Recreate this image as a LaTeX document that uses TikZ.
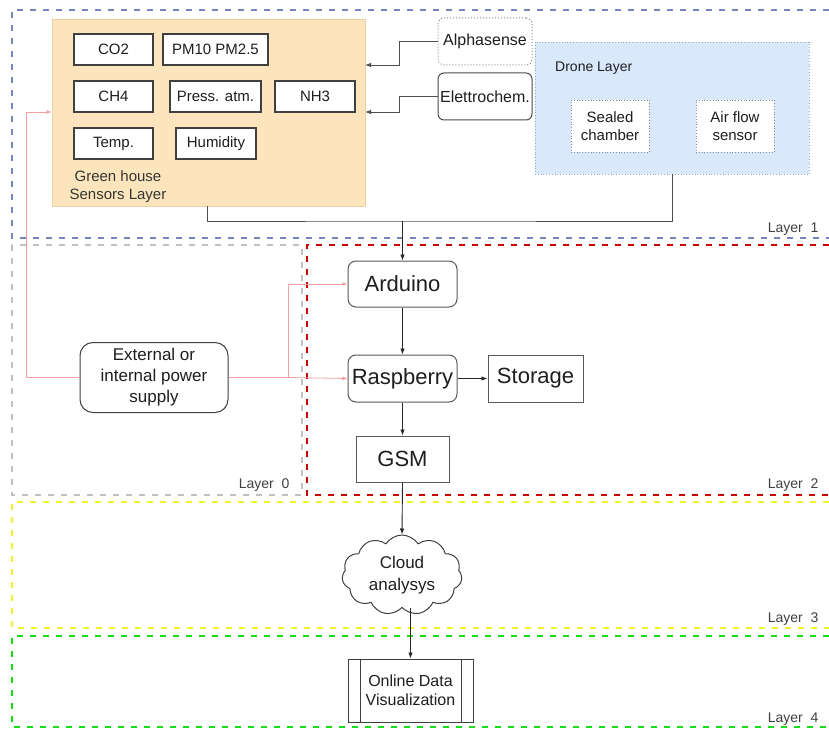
\documentclass[tikz,border=0pt]{standalone}
\usepackage{fontspec}
\setmainfont{Liberation Sans}
\usetikzlibrary{arrows.meta,shapes.symbols}

\definecolor{layerone}{RGB}{118,134,192}
\definecolor{layerzero}{RGB}{192,192,196}
\definecolor{layertwo}{RGB}{204,0,0}
\definecolor{layerthree}{RGB}{242,242,40}
\definecolor{layerfour}{RGB}{20,222,20}
\definecolor{ghfill}{RGB}{252,229,189}
\definecolor{ghline}{RGB}{236,210,160}
\definecolor{dronefill}{RGB}{218,232,252}
\definecolor{droneline}{RGB}{150,170,200}
\definecolor{powerline}{RGB}{244,160,160}
\definecolor{txt}{RGB}{30,30,30}
\definecolor{conn}{RGB}{80,80,80}

\newcommand\fsz[2]{\fontsize{#1}{#2}\selectfont}

\tikzset{
  layerbox/.style={line width=2pt, dash pattern=on 6pt off 7pt},
  layerlabel/.style={anchor=base east, text=txt!85, font=\fsz{14}{16}},
  sensor/.style={draw=black!75, fill=white, line width=1.1pt, text=txt,
    font=\fsz{15}{18}, inner sep=0pt, minimum height=31pt},
  module/.style={draw=black!70, fill=white, line width=1pt, text=txt,
    font=\fsz{16}{19}, inner sep=0pt, rounded corners=6pt,
    minimum width=94pt, minimum height=47pt},
  dotbox/.style={draw=black!45, dotted, fill=white, line width=0.8pt, text=txt,
    font=\fsz{15}{18}, align=center, inner sep=0pt,
    minimum width=78pt, minimum height=52pt},
  mainbox/.style={draw=black!65, fill=white, line width=1pt, text=txt,
    font=\fsz{22}{26}, inner sep=0pt, minimum height=46pt},
  arr/.style={-{Latex[length=6pt,width=4.5pt]}, line width=0.9pt, draw=black!85},
  bus/.style={line width=1pt, draw=conn},
  pw/.style={line width=0.8pt, draw=powerline},
  pwarr/.style={pw, -{Latex[length=5pt,width=4pt]}},
}

\begin{document}
\begin{tikzpicture}[x=1pt,y=-1pt]
\useasboundingbox (0,0) rectangle (829,730);
\fill[white] (0,0) rectangle (829,730);

% layer frames (open on the right, where they run off the page)
\draw[layerbox, layerone]   (829,10)  -- (12,10)  -- (12,238) -- (829,238);
\draw[layerbox, layerzero]  (12,245)  rectangle (302,495);
\draw[layerbox, layertwo]   (829,245) -- (307,245) -- (307,495) -- (829,495);
\draw[layerbox, layerthree] (829,502) -- (12,502) -- (12,628) -- (829,628);
\draw[layerbox, layerfour]  (829,636) -- (12,636) -- (12,727) -- (829,727);

\node[layerlabel] (l1) at (822,232) {Layer\ \ 1};
\node[layerlabel] (l0) at (293,488) {Layer\ \ 0};
\node[layerlabel] (l2) at (822,488) {Layer\ \ 2};
\node[layerlabel] (l3) at (822,622) {Layer\ \ 3};
\node[layerlabel] (l4) at (822,722) {Layer\ \ 4};

% greenhouse sensors layer
\node[draw=ghline, fill=ghfill, line width=0.8pt, minimum width=313pt,
      minimum height=187pt, inner sep=0pt] (gh) at (208.5,112.5) {};
\node[sensor, minimum width=79pt]  (co2)  at (113.5,49.5)  {CO2};
\node[sensor, minimum width=105pt] (pm)   at (215.5,49.5)  {PM10 PM2.5};
\node[sensor, minimum width=79pt]  (ch4)  at (113.5,96.5)  {CH4};
\node[sensor, minimum width=91pt]  (pres) at (215.5,96.5)  {Press. atm.};
\node[sensor, minimum width=80pt]  (nh3)  at (315,96.5)    {NH3};
\node[sensor, minimum width=79pt]  (temp) at (113.5,143.5) {Temp.};
\node[sensor, minimum width=80pt]  (hum)  at (216,143.5)   {Humidity};
\node[text=txt!90, font=\fsz{15}{18}, align=center, inner sep=0pt]
     (ghlabel) at (118,187) {Green house\\Sensors Layer};

% sensor families
\node[module, draw=black!45, dotted] (alpha) at (485,41.5) {Alphasense};
\node[module] (elet) at (485,96.5) {Elettrochem.};

% drone layer
\node[draw=droneline, dotted, fill=dronefill, line width=0.8pt,
      minimum width=274pt, minimum height=132pt, inner sep=0pt] (drone) at (672,108) {};
\node[anchor=west, text=txt, font=\fsz{14}{16}, inner sep=0pt] (dlabel) at (555,68) {Drone Layer};
\node[dotbox] (sealed) at (610,126) {Sealed\\chamber};
\node[dotbox] (airflow) at (735,126) {Air flow\\sensor};

% processing chain
\node[mainbox, rounded corners=8pt, minimum width=109pt] (ard)  at (402.5,284)   {Arduino};
\node[mainbox, rounded corners=8pt, minimum width=109pt, minimum height=47pt] (rasp) at (402.5,378.5) {Raspberry};
\node[mainbox, minimum width=95pt, minimum height=47pt] (stor) at (535.5,378.5) {Storage};
\node[mainbox, minimum width=93pt] (gsm) at (402.5,459) {GSM};

\node[draw=black!75, fill=white, line width=1pt, rounded corners=13pt,
      minimum width=148pt, minimum height=70pt, inner sep=0pt, align=center,
      text=txt, font=\fsz{17}{21}] (pwr) at (154,377.5) {External or\\internal power\\supply};

\node[cloud, cloud puffs=11, cloud puff arc=115, aspect=1.5, draw=black!75,
      fill=white, line width=1pt, minimum width=120pt, minimum height=80pt,
      inner sep=0pt, align=center, text=txt, font=\fsz{17}{22}] (cloud) at (402,575) {Cloud\\analysys};

\node[draw=black!75, fill=white, line width=1pt, minimum width=125pt,
      minimum height=63pt, inner sep=0pt, align=center, text=txt,
      font=\fsz{16}{19}] (viz) at (410.5,690.5) {Online Data\\Visualization};
\draw[black!75, line width=1pt] ([xshift=13pt]viz.north west) -- ([xshift=13pt]viz.south west);
\draw[black!75, line width=1pt] ([xshift=-12pt]viz.north east) -- ([xshift=-12pt]viz.south east);

% connectors into the greenhouse layer
\coordinate (ghA) at (365,65);
\coordinate (ghB) at (365,112);
\draw[arr, draw=conn] (alpha.west) -- ++(-38,0) |- (ghA);
\draw[arr, draw=conn] (elet.west) -- ++(-38,0) |- (ghB);

% data bus down to the Arduino
\coordinate (busj) at (402.5,221);
\draw[bus] (gh.south -| 207,0) |- (busj) -| (drone.south);
\draw[arr] (busj) -- (ard.north);

\draw[arr] (ard.south) -- (rasp.north);
\draw[arr] (rasp.east) -- (stor.west);
\draw[arr] (rasp.south) -- (gsm.north);
\draw[arr] (gsm.south) -- (cloud.north);
\draw[arr] (cloud.south -| viz.north) -- (viz.north);

% power distribution
\coordinate (pj) at (288,377.5);
\coordinate (pl) at (26,112);
\draw[pw] (pwr.east) -- (pj);
\draw[pwarr] (pj) -- (rasp.west);
\draw[pwarr] (pj) |- (ard.west);
\draw[pwarr] (pwr.west) -| (pl) -- (gh.west |- pl);
\end{tikzpicture}
\end{document}
